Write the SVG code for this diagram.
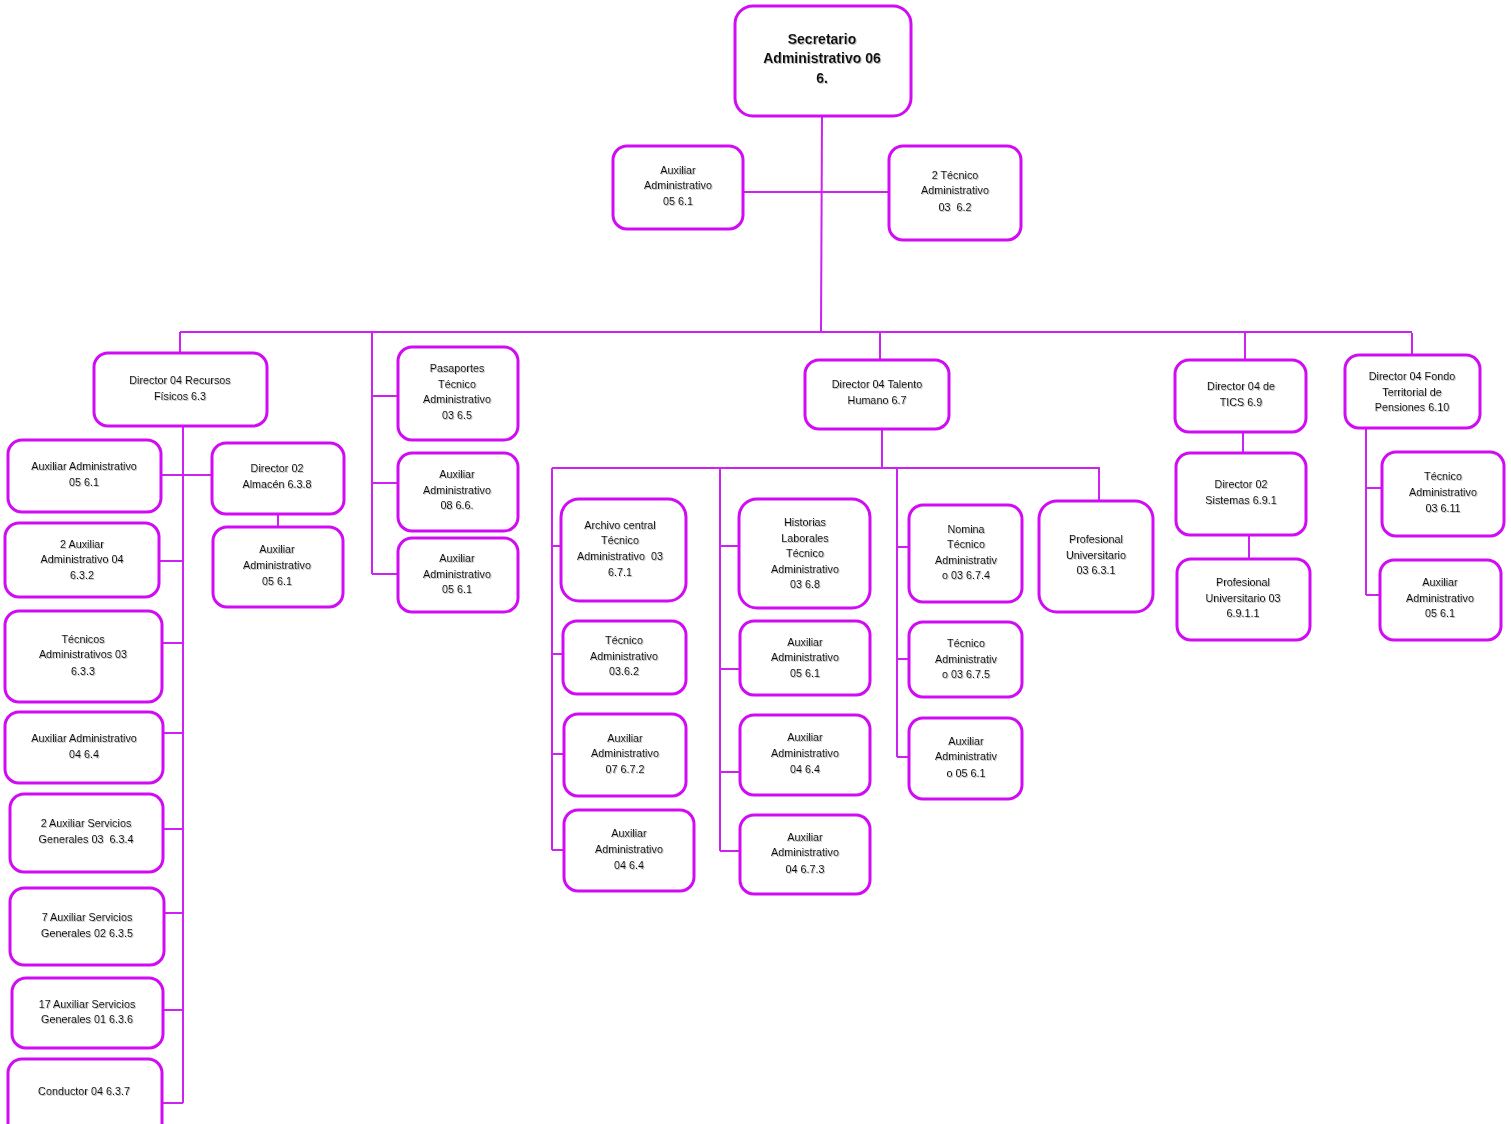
<svg xmlns="http://www.w3.org/2000/svg" width="1511" height="1124" viewBox="0 0 1511 1124">
<defs>
<filter id="sh" x="-10%" y="-10%" width="120%" height="130%">
<feDropShadow dx="1" dy="1" stdDeviation="0.4" flood-color="#888" flood-opacity="0.55"/>
</filter>
</defs>
<style>
.b{fill:#fff;stroke:#D10CF5;stroke-width:3}
.c{fill:none;stroke:#CC22F2;stroke-width:2}
text{font-family:"Liberation Sans",Arial,sans-serif;font-size:10.8px;fill:#111;text-anchor:middle;filter:url(#sh);white-space:pre}
.t{font-size:14px;font-weight:bold}
</style>
<rect width="1511" height="1124" fill="#fff"/>
<g id="connectors">
<path class="c" d="M822 116 L821 333"/>
<path class="c" d="M743 192 H889"/>
<path class="c" d="M180 332 H1412"/>
<path class="c" d="M180 332 V353"/>
<path class="c" d="M372 332 V574"/>
<path class="c" d="M372 396 H398 M372 483 H398 M372 574 H398"/>
<path class="c" d="M880 333 V360"/>
<path class="c" d="M1245 333 V360"/>
<path class="c" d="M1412 333 V355"/>
<path class="c" d="M183 426 V1103"/>
<path class="c" d="M161 475 H212 M159 561 H183 M162 643 H183 M163 733 H183 M163 829 H183 M164 913 H183 M163 1010 H183 M162 1103 H183"/>
<path class="c" d="M278 514 V527"/>
<path class="c" d="M882 429 V468"/>
<path class="c" d="M552 468 H1099 V501"/>
<path class="c" d="M552 468 V850 M720 468 V851 M897 468 V757"/>
<path class="c" d="M552 546 H561 M552 654 H563 M552 754 H564 M552 850 H564"/>
<path class="c" d="M720 546 H739 M720 669 H740 M720 772 H740 M720 851 H740"/>
<path class="c" d="M897 547 H909 M897 659 H909 M897 757 H909"/>
<path class="c" d="M1243 432 V453"/>
<path class="c" d="M1249 535 V559"/>
<path class="c" d="M1366 428 V595"/>
<path class="c" d="M1366 488 H1382 M1366 595 H1380"/>
</g>
<g id="n-secretario"><rect class="b" x="735" y="6" width="176" height="110" rx="18"/><text class="t" x="822" y="44">Secretario</text><text class="t" x="822" y="63">Administrativo 06</text><text class="t" x="822" y="83">6.</text></g>
<g id="n-aux61"><rect class="b" x="613" y="146" width="130" height="83" rx="14"/><text x="678" y="174">Auxiliar</text><text x="678" y="189">Administrativo</text><text x="678" y="205">05 6.1</text></g>
<g id="n-tec62"><rect class="b" x="889" y="146" width="132" height="94" rx="14"/><text x="955" y="179">2 Técnico</text><text x="955" y="194">Administrativo</text><text x="955" y="211" xml:space="preserve">03  6.2</text></g>

<g id="n-recursos"><rect class="b" x="94" y="353" width="173" height="73" rx="14"/><text x="180" y="384">Director 04 Recursos</text><text x="180" y="400">Físicos 6.3</text></g>
<g id="n-r1"><rect class="b" x="8" y="440" width="153" height="72" rx="14"/><text x="84" y="470">Auxiliar Administrativo</text><text x="84" y="486">05 6.1</text></g>
<g id="n-almacen"><rect class="b" x="212" y="443" width="132" height="71" rx="14"/><text x="277" y="472">Director 02</text><text x="277" y="488">Almacén 6.3.8</text></g>
<g id="n-almaux"><rect class="b" x="213" y="527" width="130" height="80" rx="14"/><text x="277" y="553">Auxiliar</text><text x="277" y="569">Administrativo</text><text x="277" y="585">05 6.1</text></g>
<g id="n-r2"><rect class="b" x="5" y="523" width="154" height="74" rx="14"/><text x="82" y="548">2 Auxiliar</text><text x="82" y="563">Administrativo 04</text><text x="82" y="579">6.3.2</text></g>
<g id="n-r3"><rect class="b" x="5" y="611" width="157" height="91" rx="14"/><text x="83" y="643">Técnicos</text><text x="83" y="658">Administrativos 03</text><text x="83" y="675">6.3.3</text></g>
<g id="n-r4"><rect class="b" x="5" y="712" width="158" height="71" rx="14"/><text x="84" y="742">Auxiliar Administrativo</text><text x="84" y="758">04 6.4</text></g>
<g id="n-r5"><rect class="b" x="10" y="794" width="153" height="78" rx="14"/><text x="86" y="827">2 Auxiliar Servicios</text><text x="86" y="843" xml:space="preserve">Generales 03  6.3.4</text></g>
<g id="n-r6"><rect class="b" x="10" y="888" width="154" height="77" rx="14"/><text x="87" y="921">7 Auxiliar Servicios</text><text x="87" y="937">Generales 02 6.3.5</text></g>
<g id="n-r7"><rect class="b" x="12" y="978" width="151" height="70" rx="14"/><text x="87" y="1008">17 Auxiliar Servicios</text><text x="87" y="1023">Generales 01 6.3.6</text></g>
<g id="n-r8"><rect class="b" x="8" y="1059" width="154" height="80" rx="14"/><text x="84" y="1095">Conductor 04 6.3.7</text></g>

<g id="n-pas"><rect class="b" x="398" y="347" width="120" height="93" rx="14"/><text x="457" y="372">Pasaportes</text><text x="457" y="388">Técnico</text><text x="457" y="403">Administrativo</text><text x="457" y="419">03 6.5</text></g>
<g id="n-aux66"><rect class="b" x="398" y="453" width="120" height="78" rx="14"/><text x="457" y="478">Auxiliar</text><text x="457" y="494">Administrativo</text><text x="457" y="509">08 6.6.</text></g>
<g id="n-aux61b"><rect class="b" x="398" y="538" width="120" height="74" rx="14"/><text x="457" y="562">Auxiliar</text><text x="457" y="578">Administrativo</text><text x="457" y="593">05 6.1</text></g>

<g id="n-talento"><rect class="b" x="805" y="360" width="144" height="69" rx="14"/><text x="877" y="388">Director 04 Talento</text><text x="877" y="404">Humano 6.7</text></g>
<g id="n-archivo"><rect class="b" x="561" y="499" width="125" height="102" rx="18"/><text x="620" y="529">Archivo central</text><text x="620" y="544">Técnico</text><text x="620" y="560" xml:space="preserve">Administrativo  03</text><text x="620" y="576">6.7.1</text></g>
<g id="n-tec362"><rect class="b" x="563" y="621" width="123" height="73" rx="14"/><text x="624" y="644">Técnico</text><text x="624" y="660">Administrativo</text><text x="624" y="675">03.6.2</text></g>
<g id="n-aux672"><rect class="b" x="564" y="714" width="122" height="82" rx="14"/><text x="625" y="742">Auxiliar</text><text x="625" y="757">Administrativo</text><text x="625" y="773">07 6.7.2</text></g>
<g id="n-aux64a"><rect class="b" x="564" y="810" width="130" height="81" rx="14"/><text x="629" y="837">Auxiliar</text><text x="629" y="853">Administrativo</text><text x="629" y="869">04 6.4</text></g>
<g id="n-historias"><rect class="b" x="739" y="499" width="131" height="109" rx="18"/><text x="805" y="526">Historias</text><text x="805" y="542">Laborales</text><text x="805" y="557">Técnico</text><text x="805" y="573">Administrativo</text><text x="805" y="588">03 6.8</text></g>
<g id="n-aux61c"><rect class="b" x="740" y="621" width="130" height="74" rx="14"/><text x="805" y="646">Auxiliar</text><text x="805" y="661">Administrativo</text><text x="805" y="677">05 6.1</text></g>
<g id="n-aux64b"><rect class="b" x="740" y="715" width="130" height="80" rx="14"/><text x="805" y="741">Auxiliar</text><text x="805" y="757">Administrativo</text><text x="805" y="773">04 6.4</text></g>
<g id="n-aux673"><rect class="b" x="740" y="815" width="130" height="79" rx="14"/><text x="805" y="841">Auxiliar</text><text x="805" y="856">Administrativo</text><text x="805" y="873">04 6.7.3</text></g>
<g id="n-nomina"><rect class="b" x="909" y="505" width="113" height="97" rx="14"/><text x="966" y="533">Nomina</text><text x="966" y="548">Técnico</text><text x="966" y="564">Administrativ</text><text x="966" y="579">o 03 6.7.4</text></g>
<g id="n-tec675"><rect class="b" x="909" y="622" width="113" height="75" rx="14"/><text x="966" y="647">Técnico</text><text x="966" y="663">Administrativ</text><text x="966" y="678">o 03 6.7.5</text></g>
<g id="n-aux61d"><rect class="b" x="909" y="718" width="113" height="81" rx="14"/><text x="966" y="745">Auxiliar</text><text x="966" y="760">Administrativ</text><text x="966" y="777">o 05 6.1</text></g>
<g id="n-prof631"><rect class="b" x="1039" y="501" width="114" height="111" rx="18"/><text x="1096" y="543">Profesional</text><text x="1096" y="559">Universitario</text><text x="1096" y="574">03 6.3.1</text></g>

<g id="n-tics"><rect class="b" x="1175" y="360" width="131" height="72" rx="14"/><text x="1241" y="390">Director 04 de</text><text x="1241" y="406">TICS 6.9</text></g>
<g id="n-sistemas"><rect class="b" x="1176" y="453" width="130" height="82" rx="14"/><text x="1241" y="488">Director 02</text><text x="1241" y="504">Sistemas 6.9.1</text></g>
<g id="n-prof6911"><rect class="b" x="1177" y="559" width="133" height="81" rx="14"/><text x="1243" y="586">Profesional</text><text x="1243" y="602">Universitario 03</text><text x="1243" y="617">6.9.1.1</text></g>

<g id="n-fondo"><rect class="b" x="1345" y="355" width="135" height="73" rx="14"/><text x="1412" y="380">Director 04 Fondo</text><text x="1412" y="396">Territorial de</text><text x="1412" y="411">Pensiones 6.10</text></g>
<g id="n-tec611"><rect class="b" x="1382" y="452" width="122" height="84" rx="14"/><text x="1443" y="480">Técnico</text><text x="1443" y="496">Administrativo</text><text x="1443" y="512">03 6.11</text></g>
<g id="n-aux61e"><rect class="b" x="1380" y="560" width="121" height="80" rx="14"/><text x="1440" y="586">Auxiliar</text><text x="1440" y="602">Administrativo</text><text x="1440" y="617">05 6.1</text></g>
</svg>
